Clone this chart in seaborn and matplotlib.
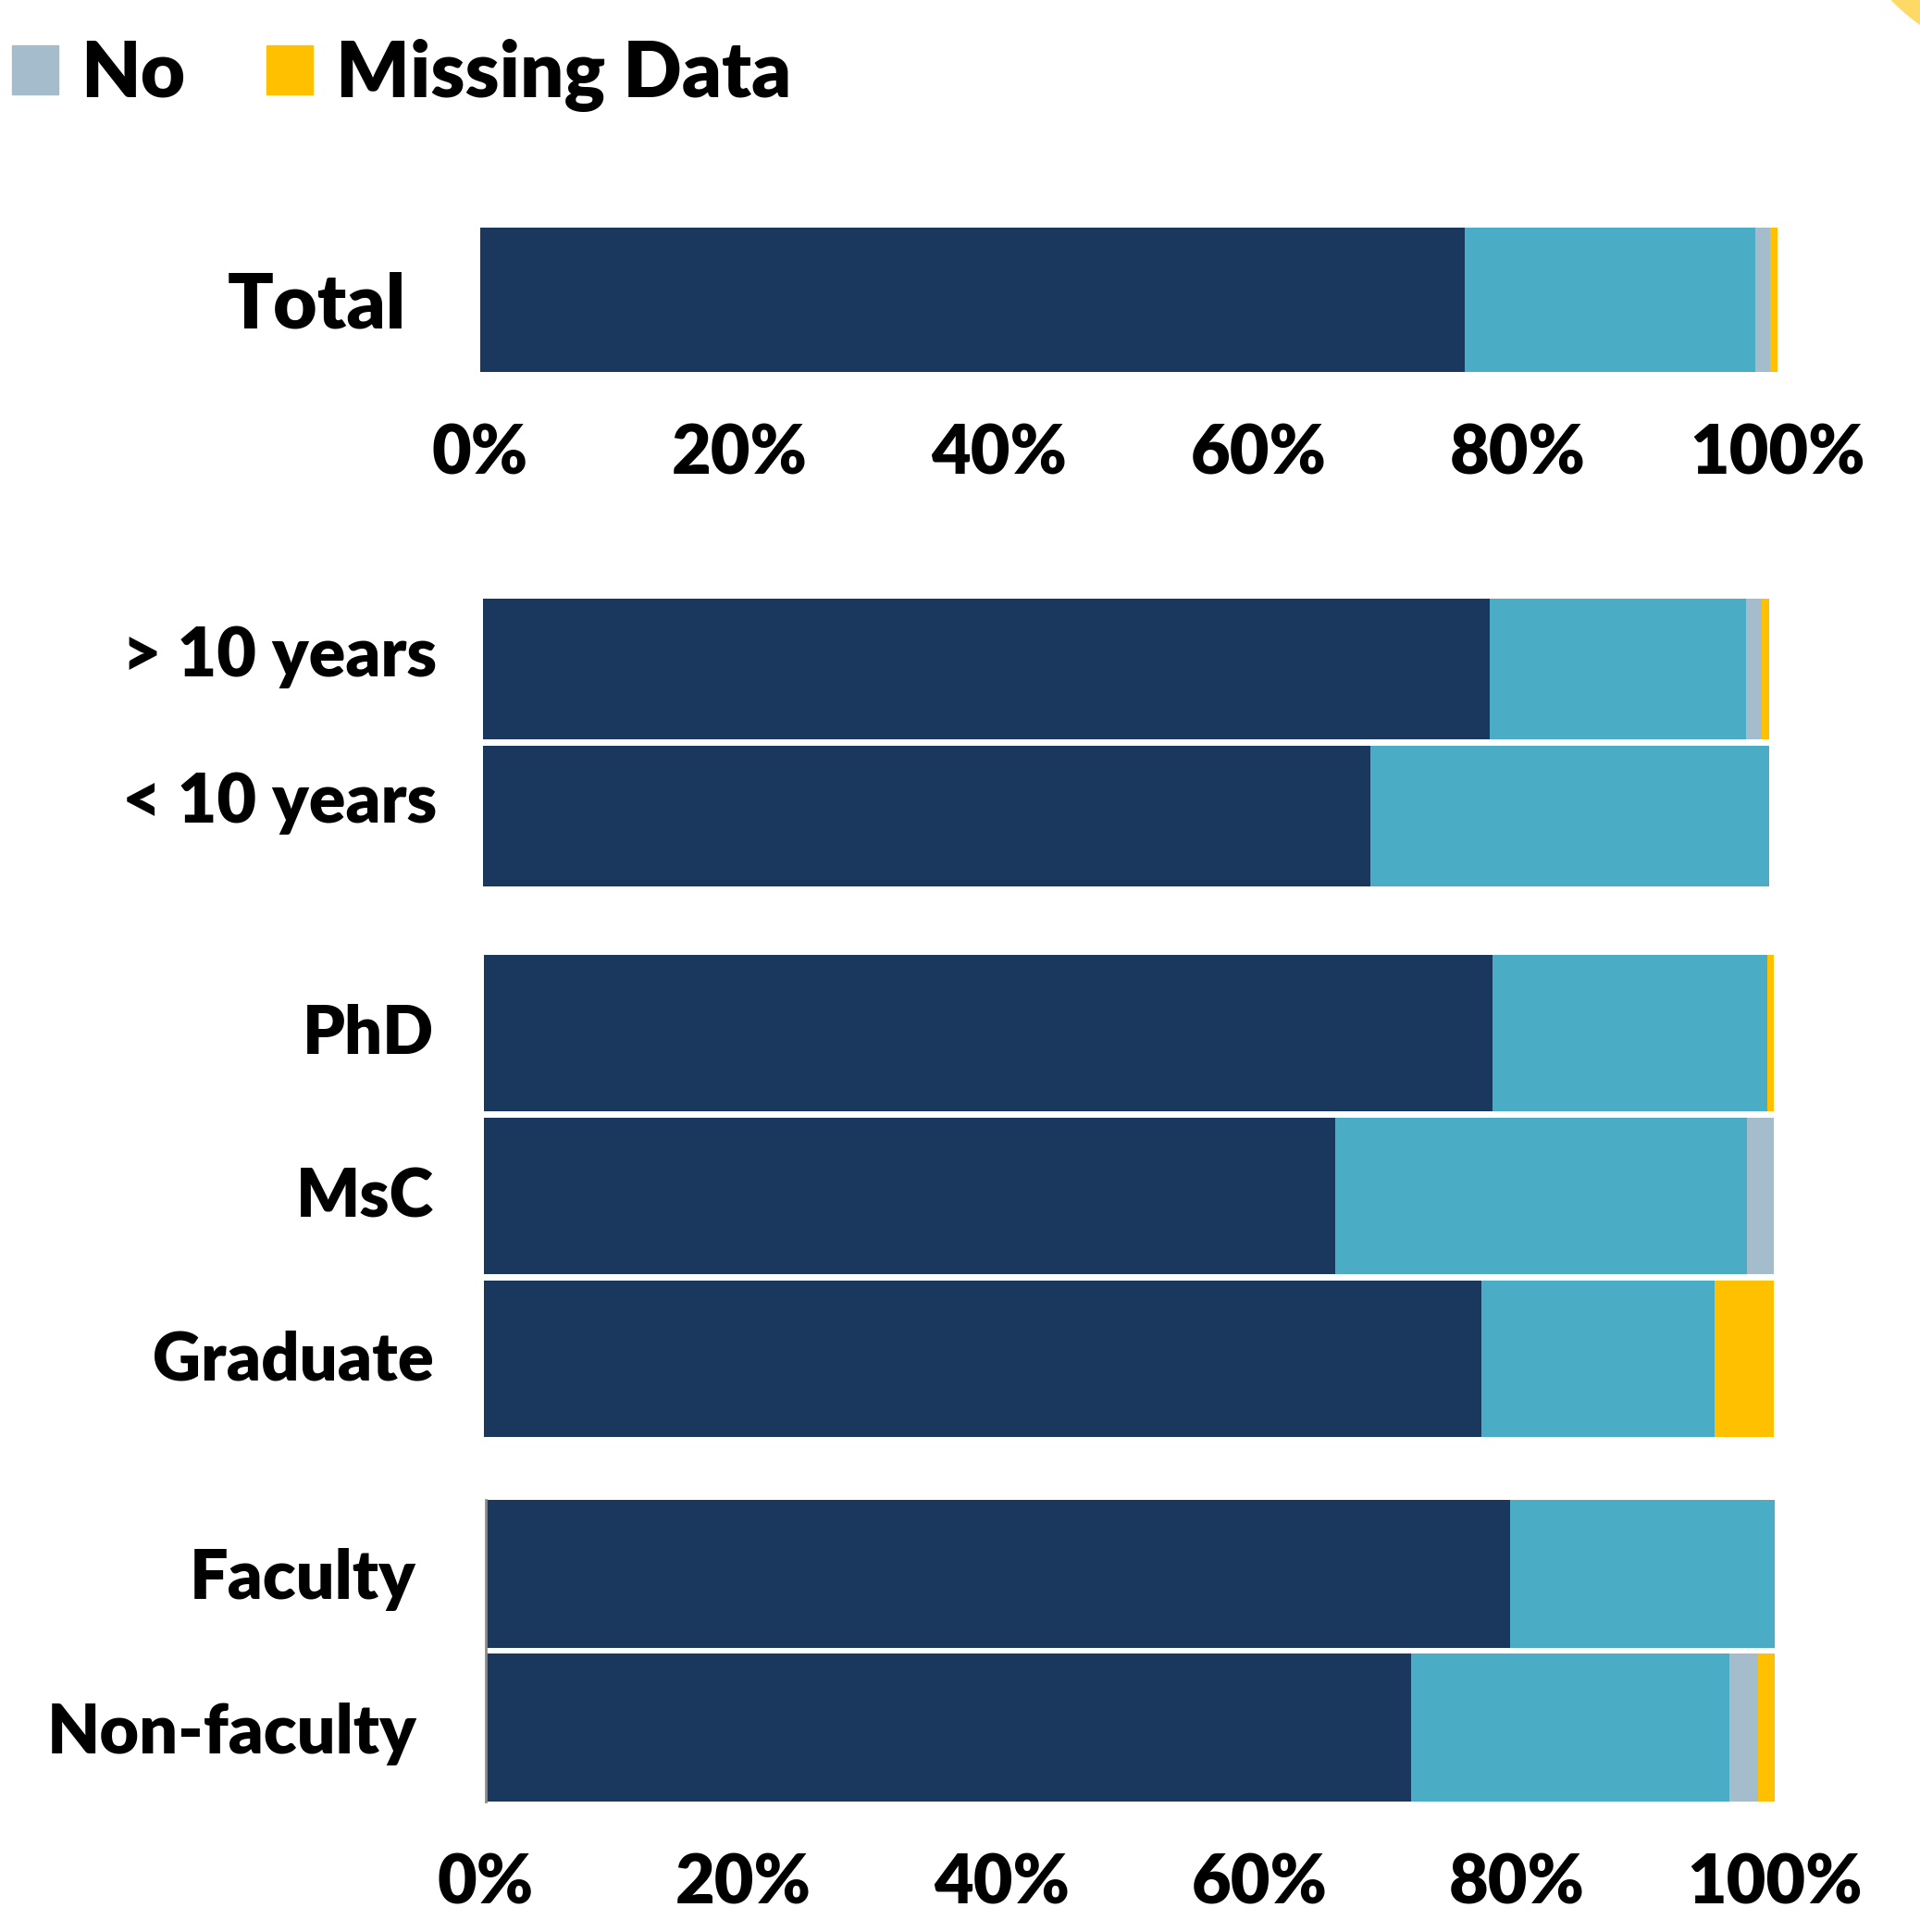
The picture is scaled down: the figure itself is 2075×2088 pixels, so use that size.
import pandas as pd
import matplotlib.pyplot as plt
import matplotlib.transforms as mtransforms
import seaborn as sns
from matplotlib.patches import Patch, Circle

## data (percent of respondents per group)
categories = ['Total', '> 10 years', '< 10 years', 'PhD', 'MsC', 'Graduate', 'Faculty', 'Non-faculty']
dark_pct = [75.9, 78.3, 69.0, 78.2, 66.0, 77.3, 79.5, 71.8]
teal_pct = [22.4, 19.9, 31.0, 21.3, 31.9, 18.1, 20.5, 24.7]
no_pct = [1.1, 1.2, 0.0, 0.0, 2.1, 0.0, 0.0, 2.2]
missing_pct = [0.6, 0.6, 0.0, 0.5, 0.0, 4.6, 0.0, 1.3]

panels = [['Total'],
          ['> 10 years', '< 10 years'],
          ['PhD', 'MsC', 'Graduate'],
          ['Faculty', 'Non-faculty']]
tick_values = [0, 20, 40, 60, 80, 100]
tick_labels = ['0%', '20%', '40%', '60%', '80%', '100%']
legend_labels = ['No', 'Missing Data']

seg_cols = ['dark', 'teal', 'no', 'missing']
seg_colors = ['#1A375E', '#4BACC6', '#A5BCCD', '#FFC000']

df = pd.DataFrame({'category': categories, 'dark': dark_pct, 'teal': teal_pct,
                   'no': no_pct, 'missing': missing_pct})
# cumulative ends of each segment, drawn back to front
cum = df[seg_cols].cumsum(axis=1)
cum['category'] = df['category']

sns.set_style('white')
plt.rcParams['font.family'] = ['Lato', 'DejaVu Sans']
plt.rcParams['font.weight'] = 'heavy'
plt.rcParams['text.color'] = 'black'
plt.rcParams['xtick.color'] = 'black'
plt.rcParams['ytick.color'] = 'black'

W, H = 2075, 2088
fig = plt.figure(figsize=(W / 100, H / 100), dpi=100)

def px_rect(x0, x1, y0, y1):
    return [x0 / W, 1 - y1 / H, (x1 - x0) / W, (y1 - y0) / H]

## panel boxes in pixels: left, right, top, bottom
boxes = [(519, 1921, 246, 402),
         (522, 1912, 647, 958),
         (523, 1917, 1032, 1553),
         (525, 1918, 1621, 1947)]
label_sizes = [59, 53, 52, 53]
label_pads = [58, 36, 39, 54]
label_shift = [0, 20, 4, 0]   # px, labels sit a little high in the slide
xtick_pads = [40, 0, 0, 40]

axes = []
for cats, box, lsize, lpad, shift, xpad in zip(panels, boxes, label_sizes, label_pads,
                                               label_shift, xtick_pads):
    ax = fig.add_axes(px_rect(*box))
    sub = cum[cum['category'].isin(cats)]
    for col, color in reversed(list(zip(seg_cols, seg_colors))):
        sns.barplot(data=sub, x=col, y='category', orient='h', color=color,
                    width=0.96, saturation=1, linewidth=0, ax=ax)
    ax.set_xlim(0, 100)
    ax.set_ylim(len(cats) - 0.52, -0.48)
    ax.set(xlabel='', ylabel='')
    ax.tick_params(axis='y', length=0, pad=lpad, labelsize=lsize)
    ax.set_xticks(tick_values)
    ax.set_xticklabels(tick_labels)
    ax.tick_params(axis='x', length=0, pad=xpad, labelsize=53)
    offset = mtransforms.ScaledTranslation(0, shift / 100, fig.dpi_scale_trans)
    for lab in ax.get_yticklabels():
        lab.set_transform(lab.get_transform() + offset)
    sns.despine(ax=ax, left=True, bottom=True)
    axes.append(ax)

# only the first and last panel carry percentage labels
axes[1].set_xticks([])
axes[2].set_xticks([])
axes[3].spines['left'].set_visible(True)
axes[3].spines['left'].set_color('#8C8C8C')
axes[3].spines['left'].set_linewidth(2)

## legend (first entries fall outside the crop)
handles = [Patch(color=c) for c in seg_colors[2:]]
fig.legend(handles, legend_labels, loc='upper left', bbox_to_anchor=(0.0, 0.986),
           ncol=2, frameon=False, fontsize=60, handlelength=0.6, handleheight=0.6,
           handletextpad=0.3, columnspacing=1.05, borderaxespad=0.0, borderpad=0.15)

## slide decoration in the corner
fig.patches.append(Circle((22.0, 22.38), 2.16, color='#FFD966',
                          transform=fig.dpi_scale_trans))

plt.savefig('out.png', dpi=100)
